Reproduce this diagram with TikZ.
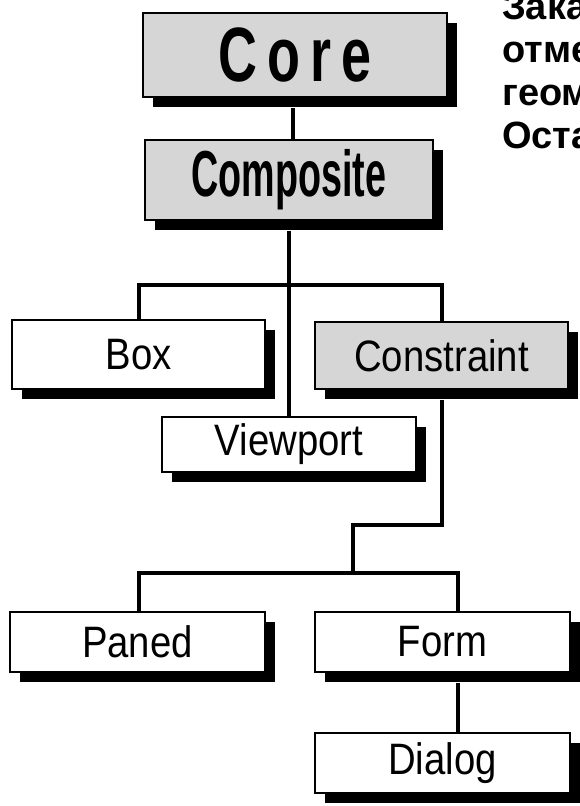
\documentclass[tikz,border=0pt]{standalone}
\usepackage{fontspec}
\setmainfont{Liberation Sans}
\newfontfamily\labfont[FakeStretch=0.87]{Liberation Sans}
\newfontfamily\corefont[FakeStretch=0.70]{Liberation Sans}
\newfontfamily\compfont[FakeStretch=0.58]{Liberation Sans}
\usetikzlibrary{shadows}
\definecolor{halftone}{gray}{0.84}
\tikzset{
  cls/.style={draw=black, line width=1.8pt, fill=white, inner sep=0pt,
    drop shadow={shadow xshift=10pt, shadow yshift=-10pt, fill=black, opacity=1},
    font=\labfont\fontsize{44}{48}\selectfont},
  graycls/.style={cls, fill=halftone},
  link/.style={line width=4pt, draw=black},
  note/.style={anchor=base west, inner sep=0pt, font=\bfseries\fontsize{38}{40}\selectfont}
}
\begin{document}
\begin{tikzpicture}[x=1pt,y=-1pt]
\useasboundingbox (0,0) rectangle (579,806);
\fill[white] (0,0) rectangle (579,806);

% junction points of the connectors
\coordinate (j0) at (289,285);
\coordinate (j1) at (353,525);
\coordinate (j2) at (458,573);
\coordinate (jl) at (139,573);

% nodes
\node[graycls, minimum width=304pt, minimum height=84pt, font=\corefont\bfseries\fontsize{77}{80}\selectfont] (core) at (295,55) {C\kern10pt o\kern10pt r\kern10pt e};
\node[graycls, minimum width=288pt, minimum height=80pt, font=\compfont\bfseries\fontsize{65}{70}\selectfont] (comp) at (289,180) {Composite};
\node[cls, minimum width=253pt, minimum height=69pt] (box) at (138.5,354.5) {Box};
\node[graycls, minimum width=253pt, minimum height=67pt] (cons) at (441.5,355.5) {Constraint};
\node[cls, minimum width=254pt, minimum height=55pt] (view) at (289,444.5) {Viewport};
\node[cls, minimum width=255pt, minimum height=60pt] (paned) at (137.5,642) {Paned};
\node[cls, minimum width=255pt, minimum height=60pt] (form) at (442.5,642) {Form};
\node[cls, minimum width=255pt, minimum height=60pt] (dialog) at (442.5,763) {Dialog};

% connectors
\draw[link] ([xshift=-2pt,yshift=-10pt]core.south) -- (comp.north -| 293,0);
\draw[link] ([yshift=-10pt]comp.south) -- (view.north);
\draw[link] (box.north) -- (box.north |- j0) -- (cons.north |- j0) -- (cons.north);
\draw[link] ([yshift=-10pt]cons.south) -- (cons.south |- j1) -- (j1) -- (j1 |- jl);
\draw[link] (paned.north -| jl) -- (jl) -- (j2) -- (j2 |- form.north);
\draw[link] ([yshift=-10pt]form.south -| j2) -- (j2 |- dialog.north);

% side text (cut at the picture's edge, as in the reference)
\node[note] (t1) at (502,19) {Зака};
\node[note] (t2) at (502,62) {отме};
\node[note] (t3) at (502,105) {геом};
\node[note] (t4) at (502,148) {Оста};
\end{tikzpicture}
\end{document}
